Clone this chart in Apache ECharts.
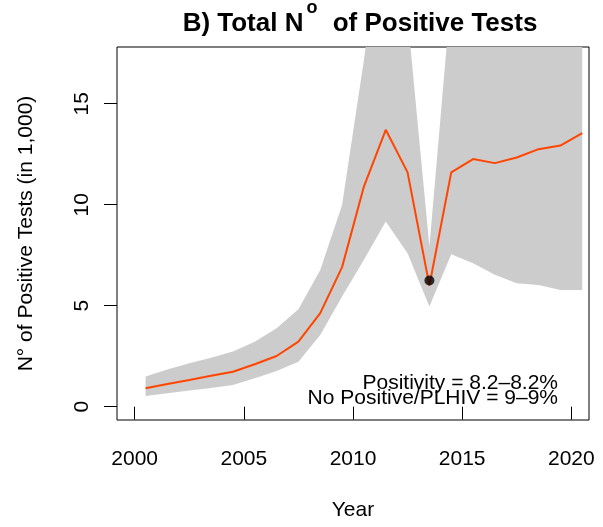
<!DOCTYPE html>
<html>
<head>
<meta charset="utf-8">
<script src="https://cdn.jsdelivr.net/npm/echarts@6/dist/echarts.min.js"></script>
<style>
  html, body { margin: 0; padding: 0; background: #fff; }
  #chart { width: 603px; height: 527px; }
</style>
</head>
<body>
<div id="chart"></div>
<script>
// Mid-year positions of the estimates
var years = [2000.5, 2001.5, 2002.5, 2003.5, 2004.5, 2005.5, 2006.5, 2007.5, 2008.5, 2009.5,
             2010.5, 2011.5, 2012.5, 2013.5, 2014.5, 2015.5, 2016.5, 2017.5, 2018.5, 2019.5, 2020.5];
// Modelled number of positive tests (thousands)
var fitted = [0.91, 1.12, 1.32, 1.53, 1.73, 2.10, 2.51, 3.22, 4.63, 6.91,
              10.90, 13.71, 11.60, 6.00, 11.60, 12.26, 12.06, 12.34, 12.75, 12.93, 13.55];
// Uncertainty interval bounds (thousands)
var lower = [0.53, 0.66, 0.80, 0.93, 1.07, 1.41, 1.77, 2.23, 3.55, 5.45,
             7.27, 9.17, 7.60, 4.96, 7.55, 7.10, 6.53, 6.11, 6.03, 5.78, 5.78];
var upper = [1.49, 1.84, 2.15, 2.42, 2.73, 3.22, 3.88, 4.83, 6.77, 9.99,
             17.17, 25.0, 19.3, 7.93, 20.5, 22.0, 23.0, 24.0, 25.0, 26.0, 27.0];
// Reported data point
var observedYear = [2013.5];
var observedValue = [6.25];
// Axis ticks
var xTicks = [2000, 2005, 2010, 2015, 2020];
var yTicks = [0, 5, 10, 15];
// Annotation lines
var notes = ['Positivity = 8.2\u20138.2%', 'No Positive/PLHIV = 9\u20139%'];

var FONT = '"Liberation Sans", Arial, Helvetica, sans-serif';

var bandData = years.map(function (y, i) { return [y, lower[i], upper[i]]; });
var fitPts = years.map(function (y, i) { return [y, fitted[i]]; });
var obsPts = observedYear.map(function (y, i) { return [y, observedValue[i]]; });

// Shaded interval: one polygon running along the upper bound and back along the lower bound
function renderBand(params, api) {
  if (params.dataIndex !== 0) { return null; }
  var pts = [];
  var i;
  for (i = 0; i < bandData.length; i++) {
    pts.push(api.coord([bandData[i][0], bandData[i][2]]));
  }
  for (i = bandData.length - 1; i >= 0; i--) {
    pts.push(api.coord([bandData[i][0], bandData[i][1]]));
  }
  return { type: 'polygon', shape: { points: pts }, style: { fill: '#cccccc', stroke: null } };
}

var chart = echarts.init(document.getElementById('chart'), null, { renderer: 'canvas' });
chart.setOption({
  animation: false,
  backgroundColor: '#ffffff',
  title: {
    text: '{main|B) Total N}{sup|o}{main| of Positive Tests}',
    left: 360,
    top: -1,
    padding: 0,
    textAlign: 'center',
    textStyle: {
      fontFamily: FONT, fontSize: 26, fontWeight: 'bold', color: '#000',
      rich: {
        main: { fontFamily: FONT, fontSize: 26, fontWeight: 'bold', color: '#000', lineHeight: 50 },
        sup: { fontFamily: FONT, fontSize: 18, fontWeight: 'bold', color: '#000',
               verticalAlign: 'top', lineHeight: 18, padding: [0, 8, 0, 3] }
      }
    }
  },
  grid: {
    left: 117, right: 14, top: 47, bottom: 107,
    show: true, borderColor: '#000', borderWidth: 1, backgroundColor: 'transparent'
  },
  xAxis: {
    type: 'value', min: 1999.19, max: 2020.81,
    axisLine: { show: false },
    splitLine: { show: false },
    axisTick: { show: true, length: 13, customValues: xTicks, lineStyle: { color: '#000', width: 1 } },
    axisLabel: { customValues: xTicks, fontFamily: FONT, fontSize: 21, color: '#000', margin: 29,
                 formatter: function (v) { return String(v); } },
    name: 'Year', nameLocation: 'middle', nameGap: 80,
    nameTextStyle: { fontFamily: FONT, fontSize: 21, color: '#000' }
  },
  yAxis: {
    type: 'value', min: -0.66, max: 17.81,
    axisLine: { show: false },
    splitLine: { show: false },
    axisTick: { show: true, length: 13, customValues: yTicks, lineStyle: { color: '#000', width: 1 } },
    axisLabel: { customValues: yTicks, rotate: 90, fontFamily: FONT, fontSize: 21, color: '#000', margin: 24,
                 formatter: function (v) { return String(v); } },
    name: 'N\u00b0 of Positive Tests (in 1,000)', nameLocation: 'middle', nameGap: 80,
    nameTextStyle: { fontFamily: FONT, fontSize: 21, color: '#000' }
  },
  series: [
    {
      name: 'interval', type: 'custom', data: bandData, renderItem: renderBand,
      encode: { x: 0, y: [1, 2] }, clip: true, silent: true, z: 1
    },
    {
      name: 'fitted', type: 'line', data: fitPts, symbol: 'none',
      lineStyle: { color: '#ff4500', width: 2 }, z: 3
    },
    {
      name: 'observed', type: 'scatter', data: obsPts, symbol: 'circle', symbolSize: 10,
      itemStyle: { color: '#000' }, z: 4
    }
  ],
  graphic: [
    { type: 'text', x: 558, y: 383, z: 10,
      style: { text: notes[0], font: '21px ' + FONT, fill: '#000', align: 'right', verticalAlign: 'middle' } },
    { type: 'text', x: 558, y: 398, z: 10,
      style: { text: notes[1], font: '21px ' + FONT, fill: '#000', align: 'right', verticalAlign: 'middle' } }
  ]
});
</script>
</body>
</html>
